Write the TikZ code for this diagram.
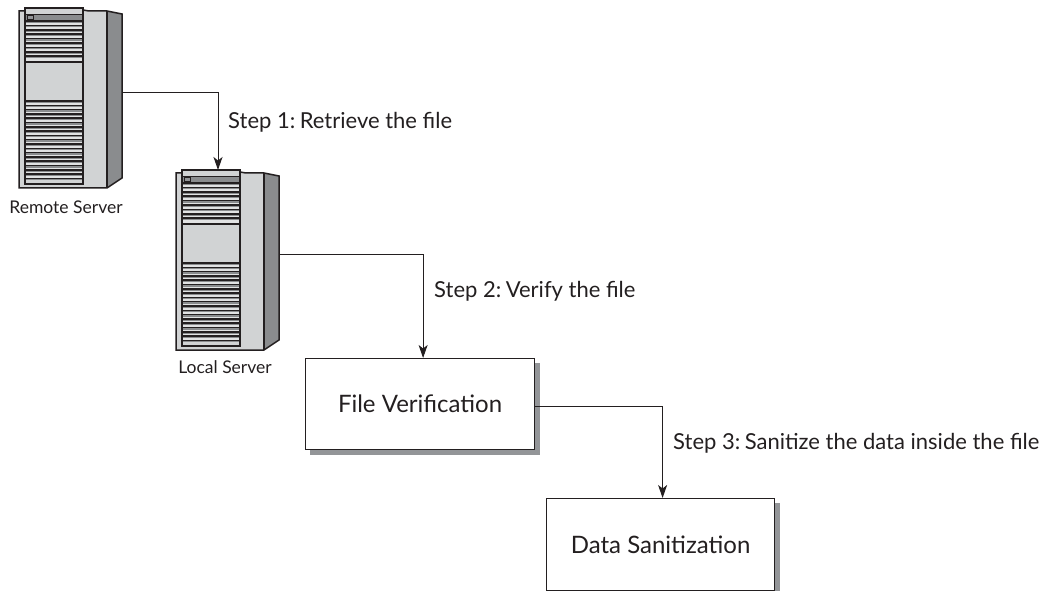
\documentclass[tikz,border=0pt]{standalone}
\usepackage{fontspec}
\setmainfont{Lato}
\usetikzlibrary{arrows.meta}
\definecolor{ink}{HTML}{231F20}
\definecolor{lightgr}{HTML}{D1D3D4}
\definecolor{midgr}{HTML}{8A8C8E}
\definecolor{shadowgr}{HTML}{939598}
\tikzset{
  x=1pt,y=-1pt,
  flow/.style={draw=ink,line width=1pt,-{Stealth[length=13pt,width=9pt,inset=3.5pt]}},
  procbox/.style={draw=ink,fill=white,line width=1.2pt,minimum width=229pt,minimum height=91pt,inner sep=0pt,font=\fontsize{24}{28}\selectfont,text=ink},
  shade box/.style={fill=shadowgr,draw=none},
  steplabel/.style={font=\fontsize{22}{26}\selectfont,text=ink,anchor=west,inner sep=0pt},
  srvlabel/.style={font=\fontsize{17.5}{20}\selectfont,text=ink,inner sep=0pt},
  srvline/.style={draw=ink,line width=1.5pt},
  slat/.style={draw=ink,line width=1.5pt},
  srvbound/.style={inner sep=0pt,minimum width=103pt,minimum height=163pt,anchor=north west}
}
\newcommand{\serverunit}[3]{%
  \begin{scope}[shift={(#1,#2)}]
    \node[srvbound] (#3) at (19,11) {};
    \fill[lightgr] (19,11) rectangle (107,188);
    \fill[midgr] (107,11) -- (122,14) -- (122,178) -- (107,188) -- cycle;
    \draw[srvline] (83,10) -- (89,11) -- (107,11) -- (122,14) -- (122,178) -- (107,188) -- (19,188) -- (19,11) -- (25,11);
    \draw[srvline] (107,11) -- (107,188);
    \fill[lightgr] (25,8) rectangle (83,184);
    \fill[midgr] (26,14) rectangle (82,20);
    \fill[lightgr!65!white] (26,20) rectangle (82,62);
    \fill[lightgr!65!white] (26,100) rectangle (82,180);
    \foreach \yy in {21,25.4,...,60} {\draw[slat] (25,\yy) -- (83,\yy); \draw[midgr,line width=1.3pt] (25,\yy+1.4) -- (83,\yy+1.4);}
    \foreach \yy in {101,105.3,...,179} {\draw[slat] (25,\yy) -- (83,\yy); \draw[midgr,line width=1.3pt] (25,\yy+1.4) -- (83,\yy+1.4);}
    \draw[slat] (25,62) -- (83,62);
    \draw[ink,line width=0.7pt] (25,100) -- (83,100);
    \draw[ink,line width=0.8pt] (25,14) -- (83,14);
    \draw[ink,line width=0.5pt,fill=shadowgr] (27,15.5) rectangle (33,19.5);
    \draw[srvline] (25,8) rectangle (83,184);
  \end{scope}%
}
\begin{document}
\begin{tikzpicture}
  \useasboundingbox (0,0) rectangle (1042,591);
  \serverunit{0}{0}{srvA}
  \serverunit{157}{162}{srvB}
  \node[srvlabel] (lblA) at (66,207) {Remote Server};
  \node[srvlabel] (lblB) at (225,367) {Local Server};

  \fill[shade box] (310,363) rectangle (540,455);
  \node[procbox,anchor=north west] (verify) at (305,358) {File Verification};
  \fill[shade box] (552,503) rectangle (780,591);
  \node[procbox,anchor=north west,minimum width=228pt,minimum height=92pt] (sanit) at (546,498) {Data Sanitization};

  \coordinate (inB) at (218,170);
  \draw[flow] (srvA.east) -| (inB);
  \draw[flow] (srvB.east) -| ([xshift=3pt]verify.north);
  \draw[flow] ([yshift=-2.5pt]verify.east) -| ([xshift=2pt]sanit.north);

  \node[steplabel] (s1) at (228,122) {Step 1: \hspace{-3pt}Retrieve the file};
  \node[steplabel] (s2) at (434,291) {Step 2: \hspace{-3pt}Verify the file};
  \node[steplabel] (s3) at (673,443) {Step 3: \hspace{-3pt}Sanitize the data inside the file};
\end{tikzpicture}
\end{document}
